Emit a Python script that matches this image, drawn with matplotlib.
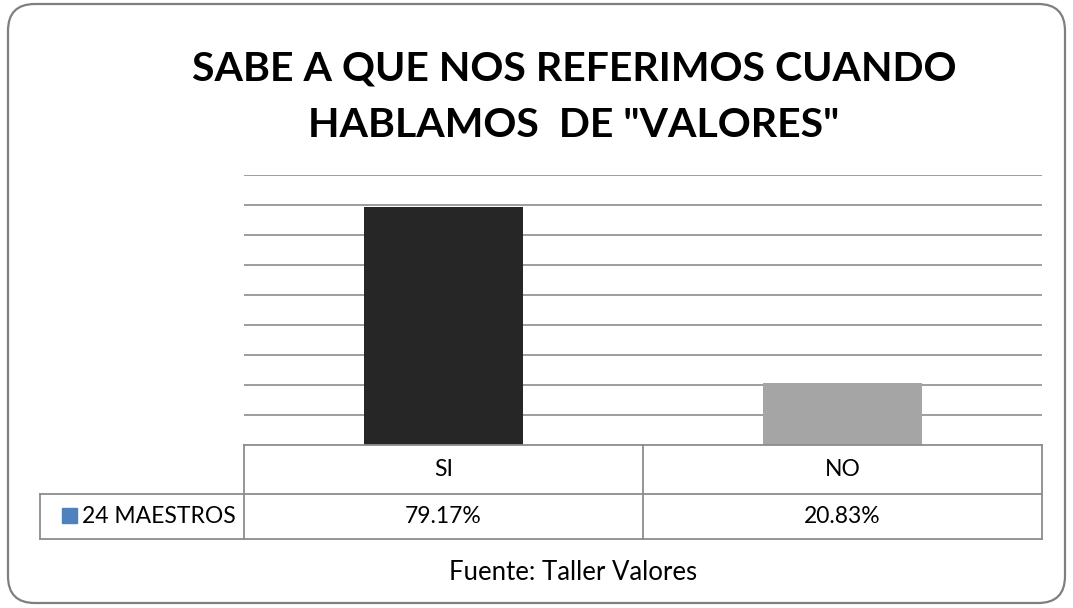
import matplotlib
matplotlib.use("Agg")
import matplotlib.pyplot as plt
from matplotlib.patches import FancyBboxPatch, Rectangle
from matplotlib.lines import Line2D

categories = ["SI", "NO"]
values = [0.7917, 0.2083]
series_name = "24 MAESTROS"
bar_colors = ["#262626", "#a5a5a5"]
legend_color = "#4f81bd"
title_lines = ["SABE A QUE NOS REFERIMOS CUANDO", 'HABLAMOS  DE "VALORES"']
source = "Fuente: Taller Valores"

plt.rcParams['font.family'] = ['Lato', 'DejaVu Sans']

W, H = 1073, 608
fig = plt.figure(figsize=(W/100, H/100), dpi=100)

def fx(px): return px / W
def fy(py): return 1 - py / H

# rounded border
border = FancyBboxPatch((fx(8), fy(603)), fx(1065) - fx(8), fy(4) - fy(603),
                        boxstyle="round,pad=0,rounding_size=0.025",
                        transform=fig.transFigure, fill=False,
                        edgecolor="#7f7f7f", linewidth=1.6, mutation_aspect=W/H)
fig.patches.append(border)

ax = fig.add_axes([fx(244), fy(445), fx(1042) - fx(244), fy(175) - fy(445)])
x = list(range(len(categories)))
ax.bar(x, values, width=0.4, color=bar_colors, zorder=3)
ax.set_xlim(-0.5, len(categories) - 0.5)
ax.set_ylim(0, 0.9)
ax.set_yticks([i / 10 for i in range(1, 10)])
ax.yaxis.grid(True, color="#8c8c8c", linewidth=1.2, zorder=0)
ax.set_xticks([])
ax.tick_params(left=False, labelleft=False)
for s in ax.spines.values():
    s.set_visible(False)

# title
for line, yb in zip(title_lines, [80, 137]):
    fig.text(fx(574), fy(yb), line, ha="center", va="baseline",
             fontsize=29.5, fontweight="bold")

# data table
tc = "#8c8c8c"
lw = 1.3
top, mid, bot = 445, 494, 539
left_lab, left_plot, right = 40, 244, 1042
col_w = (right - left_plot) / len(categories)
def hline(y, x0, x1):
    fig.add_artist(Line2D([fx(x0), fx(x1)], [fy(y), fy(y)], color=tc, lw=lw))
def vline(xp, y0, y1):
    fig.add_artist(Line2D([fx(xp), fx(xp)], [fy(y0), fy(y1)], color=tc, lw=lw))
hline(top, left_plot, right)
hline(mid, left_lab, right)
hline(bot, left_lab, right)
vline(left_lab, mid, bot)
vline(left_plot, top, bot)
for i in range(len(categories)):
    vline(left_plot + col_w * (i + 1), top, bot)
fs = 16.5
for i, (c, v) in enumerate(zip(categories, values)):
    cx = left_plot + col_w * (i + 0.5)
    fig.text(fx(cx), fy((top + mid) / 2), c, ha="center", va="center", fontsize=fs)
    fig.text(fx(cx), fy((mid + bot) / 2), f"{v*100:.2f}%", ha="center", va="center", fontsize=fs)
fig.patches.append(Rectangle((fx(62), fy(523)), fx(15), fy(508) - fy(523),
                             transform=fig.transFigure, color=legend_color))
fig.text(fx(82), fy((mid + bot) / 2), series_name, ha="left", va="center", fontsize=fs)

fig.text(fx(573), fy(572), source, ha="center", va="center", fontsize=18.5)

fig.savefig("out.png", dpi=100)
